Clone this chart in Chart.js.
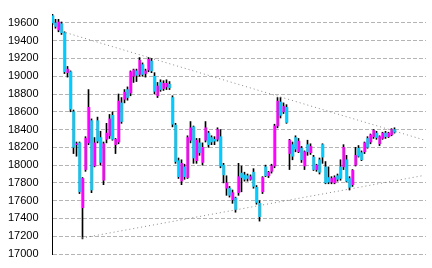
<!DOCTYPE html>
<html>
<head>
<meta charset="utf-8">
<script src="https://cdn.jsdelivr.net/npm/chart.js@4/dist/chart.umd.min.js"></script>
<style>
  html, body { margin: 0; padding: 0; background: #fff; overflow: hidden; }
  canvas { display: block; }
</style>
</head>
<body>
<canvas id="chart" width="432" height="268"></canvas>
<script>
    // daily prices (one candle per trading day)
    const open = [
        19680, 19600, 19520, 19590, 19490, 19040, 19050, 18600, 18230, 18250,
        17520, 17950, 18250, 18500, 17990, 18500, 18310, 17830, 18290, 18330,
        18560, 18230, 18260, 18700, 18740, 18850, 18810, 19000, 19060, 19020,
        19130, 19030, 19070, 19170, 19000, 18780, 18930, 18860, 18880, 18910,
        18760, 18450, 18050, 17820, 17980, 17860, 18280, 18430, 18050, 18250,
        18030, 18280, 18360, 18310, 18290, 18290, 18320, 18000, 17740, 17740,
        17610, 17630, 17690, 17910, 17890, 17880, 17840, 17920, 17750, 17570,
        17700, 17980, 17880, 17930, 17990, 18440, 18710, 18600, 18650, 18130,
        18230, 18310, 18150, 18190, 17990, 18230, 18140, 18090, 17950, 18060,
        18230, 17980, 17860, 17810, 17800, 17880, 17980, 17980, 18060, 17850,
        17780, 18000, 18190, 18140, 18150, 18300, 18260, 18320, 18360, 18240,
        18300, 18360, 18320, 18340, 18400
    ];
    const high = [
        19700, 19640, 19640, 19610, 19500, 19110, 19060, 18620, 18260, 18260,
        17860, 18320, 18850, 18520, 18310, 18540, 18380, 18260, 18470, 18570,
        18600, 18300, 18800, 18760, 18850, 18880, 19060, 19080, 19080, 19210,
        19150, 19080, 19210, 19200, 19040, 18930, 18960, 18950, 18960, 18940,
        18780, 18470, 18080, 18060, 18010, 18330, 18490, 18440, 18300, 18300,
        18250, 18490, 18380, 18330, 18320, 18420, 18400, 18020, 17880, 17760,
        17720, 17640, 18020, 17990, 17920, 17900, 17890, 17960, 17770, 17600,
        17870, 18000, 17930, 18010, 18460, 18760, 18760, 18700, 18680, 18290,
        18260, 18330, 18300, 18210, 18160, 18280, 18240, 18110, 18010, 18080,
        18240, 18040, 17980, 17870, 17880, 17900, 18060, 18230, 18110, 17870,
        17950, 18200, 18220, 18160, 18260, 18320, 18350, 18400, 18380, 18330,
        18370, 18380, 18370, 18410, 18420
    ];
    const low = [
        19580, 19540, 19500, 19470, 19030, 18990, 18600, 18130, 18100, 17680,
        17170, 17930, 18230, 17690, 17980, 18250, 18000, 17780, 18250, 18300,
        18280, 18130, 18240, 18470, 18700, 18730, 18780, 18930, 18940, 19000,
        19000, 18990, 19050, 19040, 18800, 18760, 18830, 18840, 18850, 18850,
        18430, 18020, 17850, 17780, 17840, 17850, 18250, 18020, 18020, 18110,
        18000, 18260, 18200, 18230, 18230, 18270, 17970, 17800, 17660, 17640,
        17570, 17470, 17660, 17700, 17820, 17820, 17830, 17740, 17560, 17370,
        17680, 17870, 17860, 17910, 17970, 18420, 18530, 18580, 18470, 17950,
        18060, 18150, 18140, 18030, 17950, 18110, 18120, 17940, 17930, 17900,
        18020, 17790, 17790, 17790, 17790, 17820, 17830, 17950, 17810, 17720,
        17760, 17990, 18090, 18050, 18130, 18190, 18240, 18300, 18290, 18220,
        18290, 18300, 18310, 18330, 18360
    ];
    const close = [
        19600, 19560, 19610, 19490, 19050, 19080, 18630, 18200, 18240, 17700,
        17850, 18300, 18650, 17720, 18250, 18270, 18030, 18240, 18360, 18520,
        18290, 18290, 18720, 18490, 18820, 18760, 19050, 19070, 19010, 19180,
        19020, 19060, 19190, 19060, 18830, 18890, 18850, 18920, 18920, 18870,
        18460, 18040, 17870, 18020, 17870, 18310, 18420, 18080, 18280, 18140,
        18200, 18420, 18230, 18260, 18270, 18400, 17990, 17890, 17800, 17660,
        17690, 17500, 17870, 17860, 17840, 17850, 17870, 17760, 17580, 17420,
        17860, 17880, 17920, 17990, 18440, 18720, 18560, 18660, 18480, 18280,
        18100, 18180, 18270, 18060, 18150, 18150, 18210, 17950, 18000, 17920,
        18090, 17800, 17810, 17850, 17860, 17840, 17850, 18200, 17820, 17750,
        17940, 18110, 18100, 18060, 18250, 18200, 18340, 18390, 18310, 18320,
        18360, 18320, 18360, 18400, 18370
    ];

    // trend lines: day index and price at both ends
    const upperTrendDays = [4.3, 124];
    const upperTrendPrices = [19490, 18280];
    const lowerTrendDays = [9.7, 123];
    const lowerTrendPrices = [17180, 17880];

    const yTicks = [17000, 17200, 17400, 17600, 17800, 18000, 18200, 18400,
                    18600, 18800, 19000, 19200, 19400, 19600];

    const days = open.map((v, i) => i);

    const bodies = days.map(i => ({ x: i, y: [open[i], close[i]] }));
    const wicks = days.map(i => ({ x: i, y: [low[i], high[i]] }));
    const bodyColors = days.map(i => close[i] >= open[i] ? "#ff00ff" : "#00ccff");

    const pts = (xs, ys) => xs.map((x, i) => ({ x: x, y: ys[i] }));

    const xMin = -1 / 3;
    const xMax = 124 + 1 / 3;
    const wickShift = 1 / 6; // wick sits on the left pixel column of the body

    new Chart(document.getElementById("chart"), {
        type: "bar",
        data: {
            datasets: [
                {
                    type: "line",
                    data: pts(upperTrendDays, upperTrendPrices),
                    borderColor: "#888888",
                    borderWidth: 1,
                    borderDash: [1, 3],
                    pointRadius: 0,
                    order: 0
                },
                {
                    type: "line",
                    data: pts(lowerTrendDays, lowerTrendPrices),
                    borderColor: "#888888",
                    borderWidth: 1,
                    borderDash: [1, 3],
                    pointRadius: 0,
                    order: 0
                },
                {
                    data: bodies,
                    backgroundColor: bodyColors,
                    borderWidth: 0,
                    barThickness: 2,
                    grouped: false,
                    order: 1
                },
                {
                    data: wicks,
                    xAxisID: "xw",
                    backgroundColor: "#000000",
                    borderWidth: 0,
                    barThickness: 1,
                    grouped: false,
                    order: 2
                }
            ]
        },
        options: {
            responsive: false,
            animation: false,
            layout: { padding: { left: 8, right: 6, top: 14, bottom: 14 } },
            plugins: {
                legend: { display: false },
                tooltip: { enabled: false }
            },
            scales: {
                x: {
                    type: "linear",
                    min: xMin,
                    max: xMax,
                    display: false,
                    offset: false
                },
                xw: {
                    type: "linear",
                    min: xMin + wickShift,
                    max: xMax + wickShift,
                    display: false,
                    offset: false
                },
                y: {
                    min: 17000,
                    max: 19700,
                    afterFit: s => { s.width = 44; },
                    afterBuildTicks: s => { s.ticks = yTicks.map(v => ({ value: v })); },
                    ticks: {
                        color: "#000",
                        padding: 0,
                        crossAlign: "far",
                        font: { family: "Liberation Sans", size: 11 },
                        callback: v => String(v)
                    },
                    grid: {
                        color: "#b4b4b4",
                        drawTicks: false
                    },
                    border: {
                        color: "#000",
                        width: 1,
                        dash: [4, 2]
                    }
                }
            }
        }
    });
</script>
</body>
</html>
